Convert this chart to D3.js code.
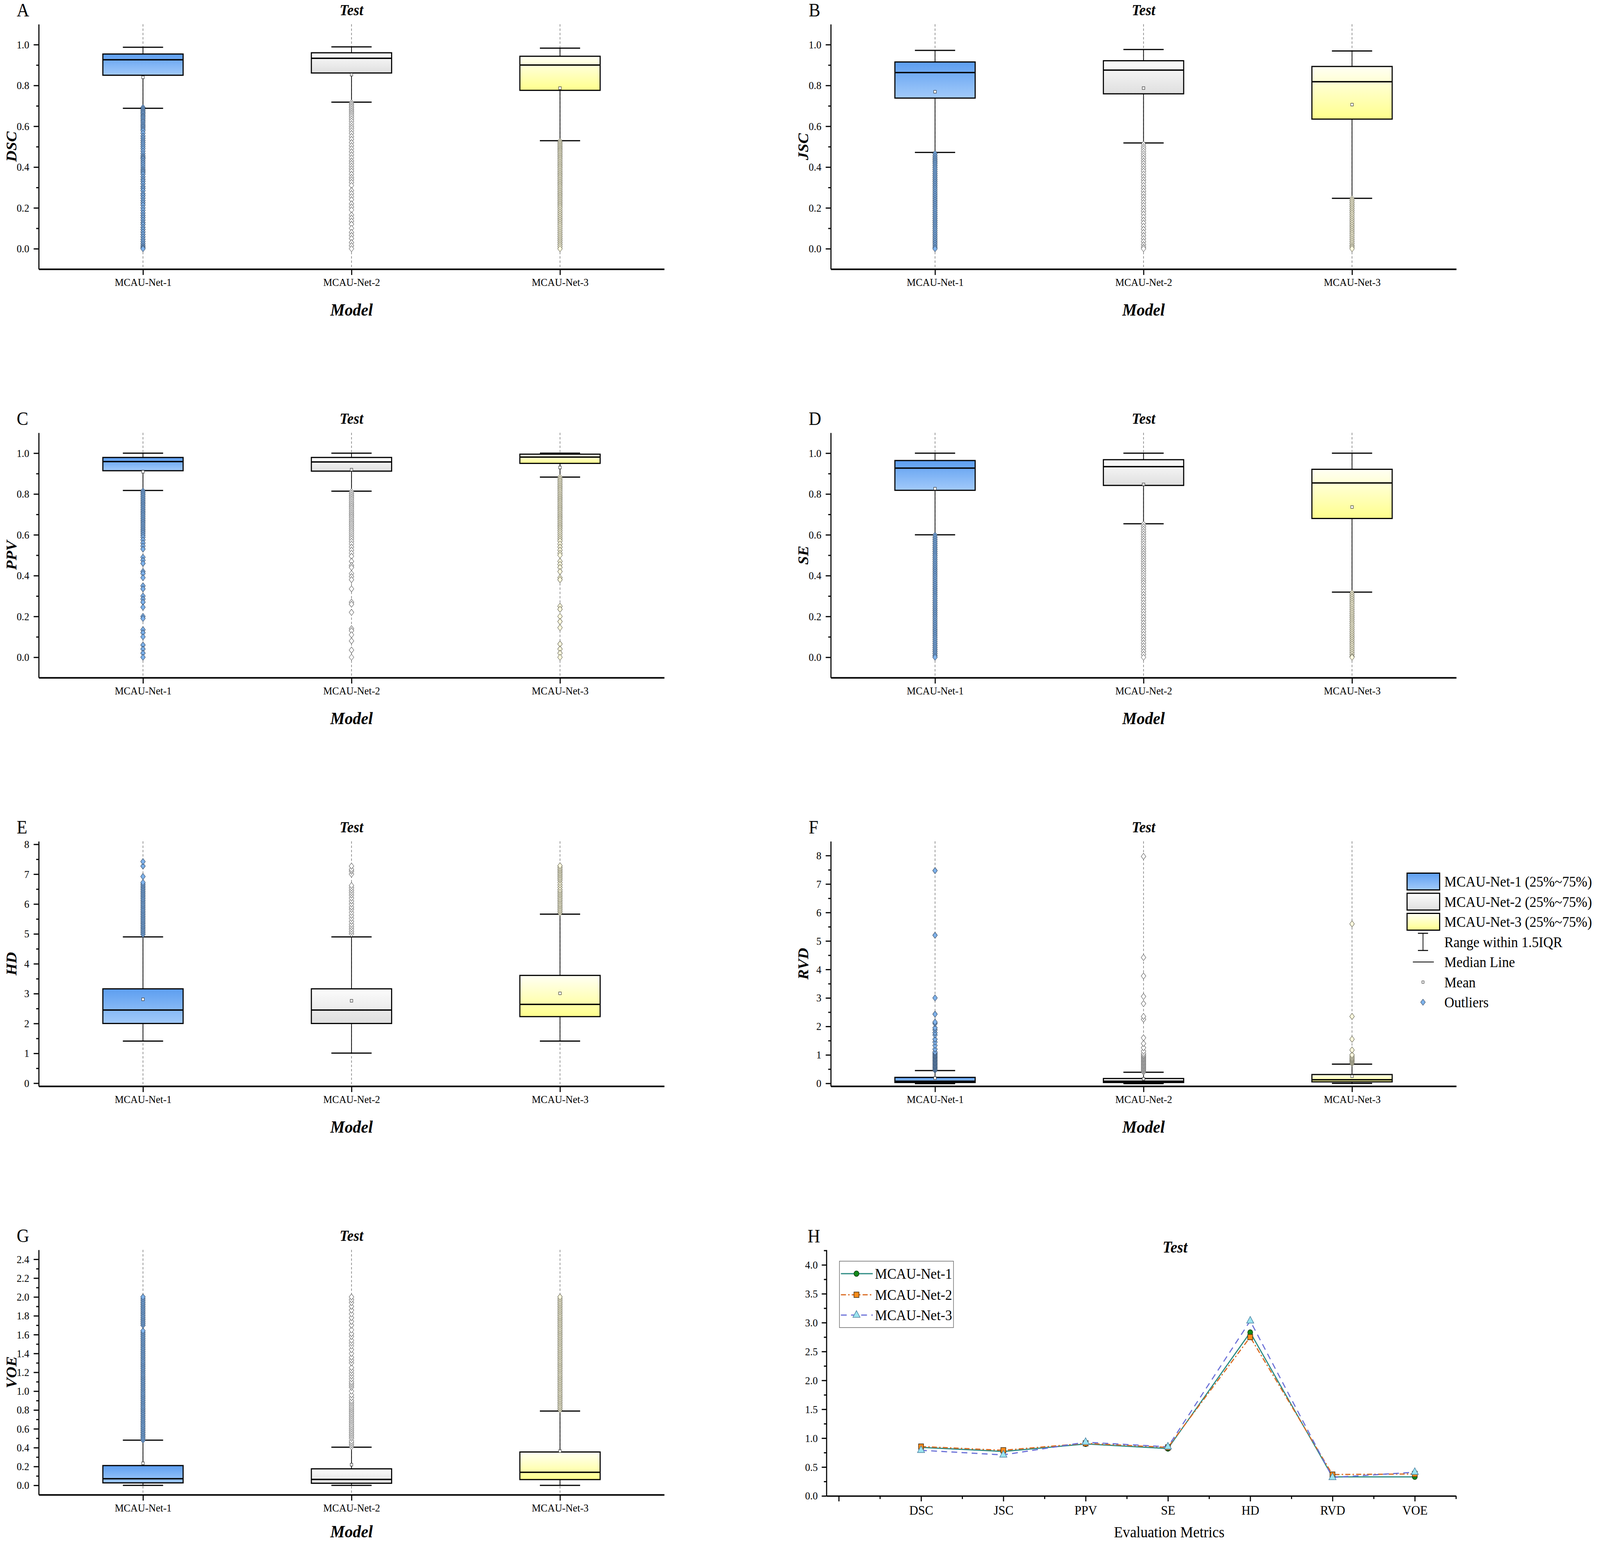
<!DOCTYPE html>
<html><head><meta charset="utf-8">
<script src="https://cdn.jsdelivr.net/npm/d3@7"></script>
<style>
html,body{margin:0;padding:0;background:#fff;overflow:hidden;width:100%;height:100%}
svg{display:block;background:#fff;width:100vw;height:100vh}
text{font-family:"Liberation Serif","Times New Roman",serif;fill:#000}
</style>
</head><body>
<svg id="c" viewBox="0 0 4420 3948" preserveAspectRatio="none"></svg>
<script>
// ---------------- DATA ----------------
const models = ["MCAU-Net-1", "MCAU-Net-2", "MCAU-Net-3"];
const metrics = ["DSC", "JSC", "PPV", "SE", "HD", "RVD", "VOE"];
const legendLabels = ["MCAU-Net-1 (25%~75%)", "MCAU-Net-2 (25%~75%)", "MCAU-Net-3 (25%~75%)", "Range within 1.5IQR", "Median Line", "Mean", "Outliers"];

// box stats per model: [lower whisker, Q1, median, Q3, upper whisker, mean]
const dscStats = [[0.688,0.850,0.926,0.954,0.987,0.840],[0.718,0.861,0.933,0.960,0.989,0.853],[0.529,0.776,0.900,0.943,0.983,0.787]];
const jscStats = [[0.472,0.738,0.863,0.915,0.972,0.769],[0.518,0.759,0.875,0.921,0.976,0.787],[0.247,0.635,0.818,0.893,0.969,0.706]];
const ppvStats = [[0.817,0.914,0.959,0.979,1.000,0.909],[0.814,0.912,0.957,0.979,1.000,0.919],[0.883,0.950,0.981,0.995,1.000,0.930]];
const seStats  = [[0.600,0.818,0.927,0.964,1.000,0.826],[0.654,0.842,0.934,0.968,1.000,0.847],[0.319,0.680,0.854,0.921,1.000,0.736]];
const hdStats  = [[1.41,2.00,2.45,3.16,4.90,2.81],[1.01,2.00,2.45,3.16,4.90,2.76],[1.41,2.23,2.64,3.61,5.66,3.01]];
const rvdStats = [[-0.01,0.030,0.074,0.210,0.450,0.185],[-0.01,0.030,0.074,0.170,0.390,0.160],[0.0,0.052,0.126,0.310,0.675,0.250]];
const voeStats = [[0.0,0.026,0.070,0.210,0.479,0.234],[0.0,0.022,0.063,0.175,0.405,0.219],[0.0,0.061,0.138,0.354,0.788,0.363]];

// outliers
const dscOut1 = [0.692,0.684,0.676,0.668,0.661,0.652,0.645,0.637,0.628,0.62,0.611,0.603,0.595,0.586,0.578,0.566,0.552,0.541,0.53,0.52,0.51,0.5,0.49,0.478,0.466,0.455,0.447,0.44,0.43,0.42,0.41,0.4,0.39,0.382,0.374,0.365,0.352,0.34,0.33,0.318,0.305,0.295,0.284,0.27,0.26,0.248,0.236,0.225,0.214,0.2,0.188,0.175,0.163,0.152,0.14,0.128,0.118,0.105,0.094,0.082,0.07,0.058,0.046,0.035,0.024,0.014,0.006,0.0];
const dscOut2 = [0.716,0.708,0.7,0.692,0.683,0.674,0.665,0.656,0.647,0.636,0.625,0.612,0.6,0.59,0.578,0.565,0.55,0.536,0.52,0.505,0.49,0.475,0.46,0.445,0.43,0.418,0.405,0.392,0.38,0.365,0.35,0.338,0.325,0.31,0.285,0.27,0.255,0.24,0.22,0.205,0.19,0.165,0.15,0.135,0.12,0.1,0.08,0.065,0.05,0.03,0.015,0.0];
const dscOut3 = [0.526,0.518,0.51,0.502,0.494,0.486,0.478,0.47,0.461,0.452,0.443,0.434,0.425,0.416,0.407,0.398,0.389,0.38,0.371,0.362,0.353,0.344,0.335,0.326,0.317,0.308,0.299,0.29,0.281,0.272,0.263,0.254,0.245,0.236,0.227,0.218,0.209,0.2,0.19,0.18,0.17,0.16,0.15,0.14,0.13,0.12,0.11,0.1,0.09,0.08,0.07,0.06,0.05,0.04,0.03,0.02,0.01,0.0];
const jscOut1 = [0.466,0.455,0.445,0.436,0.427,0.418,0.408,0.398,0.388,0.378,0.368,0.358,0.348,0.338,0.328,0.318,0.308,0.298,0.288,0.278,0.268,0.258,0.248,0.238,0.228,0.218,0.208,0.198,0.188,0.178,0.168,0.158,0.148,0.138,0.128,0.118,0.108,0.098,0.088,0.078,0.068,0.058,0.048,0.038,0.028,0.018,0.008,0.0];
const jscOut2 = [0.512,0.5,0.49,0.478,0.466,0.455,0.443,0.43,0.418,0.405,0.392,0.38,0.366,0.352,0.338,0.325,0.31,0.296,0.282,0.268,0.254,0.24,0.226,0.212,0.198,0.184,0.17,0.155,0.14,0.126,0.11,0.095,0.08,0.065,0.05,0.035,0.02,0.008,0.0];
const jscOut3 = [0.245,0.236,0.226,0.216,0.206,0.196,0.186,0.176,0.166,0.156,0.146,0.136,0.126,0.116,0.106,0.096,0.086,0.076,0.066,0.056,0.046,0.036,0.026,0.016,0.008,0.0];
const ppvOut1 = [0.815,0.806,0.797,0.788,0.779,0.77,0.761,0.752,0.743,0.734,0.725,0.716,0.707,0.698,0.689,0.68,0.671,0.662,0.653,0.644,0.635,0.626,0.617,0.608,0.598,0.588,0.575,0.56,0.545,0.53,0.49,0.475,0.46,0.42,0.41,0.39,0.35,0.335,0.3,0.285,0.27,0.245,0.2,0.19,0.135,0.12,0.1,0.06,0.04,0.02,0.0];
const ppvOut2 = [0.812,0.803,0.794,0.785,0.776,0.767,0.758,0.749,0.74,0.731,0.722,0.713,0.704,0.695,0.686,0.677,0.668,0.659,0.65,0.64,0.63,0.62,0.61,0.6,0.59,0.58,0.568,0.555,0.54,0.525,0.51,0.495,0.47,0.45,0.44,0.41,0.395,0.38,0.335,0.27,0.26,0.22,0.14,0.13,0.11,0.08,0.035,0.0];
const ppvOut3 = [0.882,0.873,0.864,0.855,0.846,0.837,0.828,0.819,0.81,0.801,0.792,0.783,0.774,0.765,0.756,0.747,0.738,0.729,0.72,0.711,0.702,0.693,0.684,0.675,0.666,0.657,0.648,0.639,0.63,0.62,0.61,0.6,0.59,0.58,0.57,0.555,0.54,0.525,0.51,0.5,0.47,0.455,0.44,0.42,0.39,0.38,0.25,0.235,0.2,0.175,0.145,0.065,0.04,0.02,0.0];
const seOut1 = [0.598,0.588,0.578,0.568,0.558,0.548,0.538,0.528,0.518,0.508,0.498,0.488,0.478,0.468,0.458,0.448,0.438,0.428,0.418,0.408,0.398,0.388,0.378,0.368,0.358,0.348,0.338,0.328,0.318,0.308,0.298,0.288,0.278,0.268,0.258,0.248,0.238,0.228,0.218,0.208,0.198,0.188,0.178,0.168,0.158,0.148,0.138,0.128,0.118,0.108,0.098,0.088,0.078,0.068,0.058,0.048,0.038,0.028,0.018,0.008,0.0];
const seOut2 = [0.652,0.64,0.628,0.616,0.604,0.592,0.58,0.568,0.556,0.544,0.532,0.52,0.508,0.496,0.484,0.472,0.46,0.448,0.436,0.424,0.412,0.4,0.388,0.376,0.364,0.35,0.336,0.322,0.308,0.294,0.28,0.266,0.252,0.238,0.224,0.21,0.196,0.182,0.168,0.154,0.14,0.126,0.112,0.098,0.084,0.07,0.056,0.042,0.028,0.014,0.0];
const seOut3 = [0.315,0.305,0.295,0.285,0.275,0.265,0.255,0.245,0.235,0.225,0.215,0.205,0.195,0.185,0.175,0.165,0.155,0.145,0.135,0.125,0.115,0.105,0.095,0.085,0.075,0.065,0.055,0.045,0.035,0.025,0.015,0.005,0.0];
const hdOut1 = [4.98,5.04,5.1,5.16,5.22,5.28,5.34,5.4,5.46,5.52,5.58,5.64,5.7,5.76,5.82,5.88,5.94,6.0,6.06,6.12,6.18,6.24,6.3,6.36,6.42,6.48,6.54,6.6,6.66,6.72,6.92,7.27,7.42];
const hdOut2 = [5.0,5.08,5.16,5.24,5.32,5.42,5.52,5.62,5.72,5.82,5.9,6.0,6.1,6.2,6.3,6.38,6.46,6.54,6.62,7.0,7.1,7.16,7.27];
const hdOut3 = [5.7,5.76,5.82,5.88,5.94,6.0,6.06,6.12,6.18,6.24,6.3,6.36,6.42,6.48,6.56,6.64,6.72,6.8,6.86,6.92,6.98,7.04,7.1,7.16,7.22,7.28];
const rvdOut1 = [0.46,0.5,0.54,0.58,0.62,0.66,0.7,0.74,0.78,0.82,0.86,0.9,0.94,0.98,1.02,1.06,1.1,1.2,1.33,1.45,1.55,1.7,1.78,1.88,1.95,2.1,2.15,2.43,3.0,5.2,7.47];
const rvdOut2 = [0.4,0.44,0.48,0.52,0.56,0.6,0.64,0.68,0.72,0.76,0.8,0.84,0.88,0.92,0.96,1.0,1.05,1.13,1.25,1.4,1.6,2.25,2.35,2.8,3.05,3.77,4.42,7.97];
const rvdOut3 = [0.7,0.74,0.78,0.82,0.86,0.9,0.95,1.0,1.17,1.55,2.35,5.6];
const voeOut1 = [0.48,0.5,0.52,0.54,0.56,0.58,0.6,0.62,0.64,0.66,0.68,0.7,0.72,0.74,0.76,0.78,0.8,0.82,0.84,0.86,0.88,0.9,0.92,0.94,0.96,0.98,1.0,1.02,1.04,1.06,1.08,1.1,1.12,1.14,1.16,1.18,1.2,1.22,1.24,1.26,1.28,1.3,1.32,1.34,1.36,1.38,1.4,1.42,1.44,1.46,1.48,1.5,1.52,1.54,1.56,1.58,1.6,1.62,1.64,1.7,1.72,1.74,1.76,1.78,1.8,1.82,1.84,1.86,1.88,1.9,1.92,1.94,1.96,1.98,2.0];
const voeOut2 = [0.41,0.43,0.45,0.47,0.5,0.52,0.54,0.56,0.58,0.6,0.62,0.64,0.66,0.68,0.7,0.72,0.74,0.76,0.78,0.8,0.82,0.84,0.86,0.88,0.9,0.93,0.96,1.0,1.04,1.06,1.08,1.1,1.13,1.16,1.19,1.22,1.25,1.3,1.33,1.36,1.4,1.44,1.48,1.51,1.54,1.58,1.61,1.65,1.7,1.74,1.78,1.82,1.86,1.9,1.94,1.97,2.0];
const voeOut3 = [0.8,0.82,0.84,0.86,0.88,0.9,0.92,0.94,0.96,0.98,1.0,1.02,1.04,1.06,1.08,1.1,1.12,1.14,1.16,1.18,1.2,1.22,1.24,1.26,1.28,1.3,1.32,1.34,1.36,1.38,1.4,1.42,1.44,1.46,1.48,1.5,1.52,1.54,1.56,1.58,1.6,1.62,1.64,1.66,1.68,1.7,1.72,1.74,1.76,1.78,1.8,1.82,1.84,1.86,1.88,1.9,1.92,1.94,1.96,1.98,2.0];

// panel H (means per metric)
const net1Line = [0.84, 0.77, 0.90, 0.82, 2.83, 0.33, 0.33];
const net2Line = [0.855, 0.79, 0.91, 0.84, 2.75, 0.37, 0.38];
const net3Line = [0.79, 0.71, 0.93, 0.85, 3.03, 0.32, 0.41];

// tick values
const unitMajor = [0, 0.2, 0.4, 0.6, 0.8, 1.0];
const unitMinor = [0.1, 0.3, 0.5, 0.7, 0.9];
const hdMajor = [0,1,2,3,4,5,6,7,8];
const hdMinor = [0.5,1.5,2.5,3.5,4.5,5.5,6.5,7.5];
const voeMajor = [0,0.2,0.4,0.6,0.8,1.0,1.2,1.4,1.6,1.8,2.0,2.2,2.4];
const voeMinor = [0.1,0.3,0.5,0.7,0.9,1.1,1.3,1.5,1.7,1.9,2.1,2.3];
const lineMajor = [0,0.5,1.0,1.5,2.0,2.5,3.0,3.5,4.0];
const lineMinor = [0.25,0.75,1.25,1.75,2.25,2.75,3.25,3.75,4.25];

// ---------------- DRAW ----------------
const svg = d3.select("#c");
const defs = svg.append("defs");
const gradStops = [["#5d9ef0","#a2cafa"],["#fcfcfc","#dfdfdf"],["#fffff4","#ffff8c"]];
gradStops.forEach((s,i)=>{
  const lg = defs.append("linearGradient").attr("id","bg"+i).attr("x1",0).attr("y1",0).attr("x2",0).attr("y2",1);
  lg.append("stop").attr("offset",0).attr("stop-color",s[0]);
  lg.append("stop").attr("offset",1).attr("stop-color",s[1]);
});
svg.append("rect").attr("x",0).attr("y",0).attr("width",4420).attr("height",3948).attr("fill","#fff");
const outFill = ["#7fb3ec","#ffffff","#fffbe0"];
const outStroke = ["#2e3f55","#555555","#5a5a4a"];
const W = 1728, H = 627;
const colX = [107, 2295];
const rowTop = [62, 1108, 2154, 3200];
const diamond = "M0,-8L6.5,0L0,8L-6.5,0Z";

const panels = [
  {letter:"A", label:"DSC", c:0, r:0, domain:[-0.1,1.1], major:unitMajor, minor:unitMinor, fmt:d3.format(".1f"), stats:dscStats, out:[dscOut1,dscOut2,dscOut3]},
  {letter:"B", label:"JSC", c:1, r:0, domain:[-0.1,1.1], major:unitMajor, minor:unitMinor, fmt:d3.format(".1f"), stats:jscStats, out:[jscOut1,jscOut2,jscOut3]},
  {letter:"C", label:"PPV", c:0, r:1, domain:[-0.1,1.1], major:unitMajor, minor:unitMinor, fmt:d3.format(".1f"), stats:ppvStats, out:[ppvOut1,ppvOut2,ppvOut3]},
  {letter:"D", label:"SE",  c:1, r:1, domain:[-0.1,1.1], major:unitMajor, minor:unitMinor, fmt:d3.format(".1f"), stats:seStats, out:[seOut1,seOut2,seOut3]},
  {letter:"E", label:"HD",  c:0, r:2, domain:[-0.1,8.1], major:hdMajor, minor:hdMinor, fmt:d3.format("d"), stats:hdStats, out:[hdOut1,hdOut2,hdOut3]},
  {letter:"F", label:"RVD", c:1, r:2, domain:[-0.1,8.5], major:hdMajor, minor:hdMinor, fmt:d3.format("d"), stats:rvdStats, out:[rvdOut1,rvdOut2,rvdOut3]},
  {letter:"G", label:"VOE", c:0, r:3, domain:[-0.1,2.5], major:voeMajor, minor:voeMinor, fmt:d3.format(".1f"), stats:voeStats, out:[voeOut1,voeOut2,voeOut3]}
];

function styleAxis(g, w){
  g.selectAll("path.domain").attr("stroke","#000").attr("stroke-width",w);
  g.selectAll(".tick line").attr("stroke","#000").attr("stroke-width",3);
}

panels.forEach(p=>{
  const x0 = colX[p.c], x1 = x0 + W, top = rowTop[p.r], bot = top + H;
  const x = d3.scaleLinear().domain([0.5,3.5]).range([x0,x1]);
  const y = d3.scaleLinear().domain(p.domain).range([bot,top]);
  const g = svg.append("g");
  const bw = 0.385, cw = 0.193;

  g.selectAll("line.guide").data(models).join("line").attr("class","guide")
    .attr("x1",(d,i)=>x(i+1)).attr("x2",(d,i)=>x(i+1)).attr("y1",top).attr("y2",bot)
    .attr("stroke","#6e6e6e").attr("stroke-width",1.5).attr("stroke-dasharray","6,5");

  const bx = g.selectAll("g.box").data(p.stats).join("g").attr("class","box");
  bx.append("line").attr("x1",(d,i)=>x(i+1)).attr("x2",(d,i)=>x(i+1)).attr("y1",d=>y(d[3])).attr("y2",d=>y(d[4])).attr("stroke","#000").attr("stroke-width",2);
  bx.append("line").attr("x1",(d,i)=>x(i+1)).attr("x2",(d,i)=>x(i+1)).attr("y1",d=>y(d[1])).attr("y2",d=>y(d[0])).attr("stroke","#000").attr("stroke-width",2);
  bx.append("line").attr("x1",(d,i)=>x(i+1-cw/2)).attr("x2",(d,i)=>x(i+1+cw/2)).attr("y1",d=>y(d[4])).attr("y2",d=>y(d[4])).attr("stroke","#000").attr("stroke-width",3);
  bx.append("line").attr("x1",(d,i)=>x(i+1-cw/2)).attr("x2",(d,i)=>x(i+1+cw/2)).attr("y1",d=>y(d[0])).attr("y2",d=>y(d[0])).attr("stroke","#000").attr("stroke-width",3);
  bx.append("rect").attr("x",(d,i)=>x(i+1-bw/2)).attr("width",(d,i)=>x(i+1+bw/2)-x(i+1-bw/2))
    .attr("y",d=>y(d[3])).attr("height",d=>Math.max(1,y(d[1])-y(d[3])))
    .attr("fill",(d,i)=>`url(#bg${i})`).attr("stroke","#000").attr("stroke-width",3);
  bx.append("line").attr("x1",(d,i)=>x(i+1-bw/2)).attr("x2",(d,i)=>x(i+1+bw/2)).attr("y1",d=>y(d[2])).attr("y2",d=>y(d[2])).attr("stroke","#000").attr("stroke-width",3.5);

  p.out.forEach((arr,i)=>{
    g.selectAll(null).data(arr).join("path").attr("d",diamond)
      .attr("transform",d=>`translate(${x(i+1)},${y(d)})`)
      .attr("fill",outFill[i]).attr("stroke",outStroke[i]).attr("stroke-width",1.1);
  });
  bx.append("rect").attr("x",(d,i)=>x(i+1)-3.5).attr("y",d=>y(d[5])-3.5).attr("width",7).attr("height",7)
    .attr("fill","#fff").attr("stroke","#333").attr("stroke-width",1.2);

  const ya = g.append("g").attr("transform",`translate(${x0},0)`)
    .call(d3.axisLeft(y).tickValues(p.major).tickFormat(p.fmt).tickSize(14).tickSizeOuter(0).tickPadding(12));
  styleAxis(ya,3);
  ya.selectAll("text").attr("font-size",28).attr("font-family","Liberation Serif");
  const ym = g.append("g").attr("transform",`translate(${x0},0)`)
    .call(d3.axisLeft(y).tickValues(p.minor).tickFormat("").tickSize(7).tickSizeOuter(0));
  ym.select("path.domain").remove();
  styleAxis(ym,3);
  const xa = g.append("g").attr("transform",`translate(0,${bot})`)
    .call(d3.axisBottom(x).tickValues([1,2,3]).tickFormat(d=>models[d-1]).tickSize(15).tickSizeOuter(0).tickPadding(8));
  styleAxis(xa,4);
  xa.selectAll("text").attr("font-size",28).attr("font-family","Liberation Serif");

  g.append("text").attr("x",x0-61).attr("y",top-20).attr("font-size",48).text(p.letter);
  g.append("text").attr("x",(x0+x1)/2).attr("y",top-23).attr("text-anchor","middle")
    .attr("font-size",40).attr("font-weight","bold").attr("font-style","italic").text("Test");
  g.append("text").attr("x",(x0+x1)/2).attr("y",Math.min(bot+119,3936)).attr("text-anchor","middle")
    .attr("font-size",45).attr("font-weight","bold").attr("font-style","italic").text("Model");
  g.append("text").attr("transform",`translate(${x0-62},${(top+bot)/2}) rotate(-90)`).attr("text-anchor","middle")
    .attr("font-size",40).attr("font-weight","bold").attr("font-style","italic").text(p.label);
});

// ---------- legend (right of F) ----------
const lg = svg.append("g");
const ly = d3.scaleLinear().domain([0,6]).range([2257,2566]);
legendLabels.forEach((t,i)=>{
  const cy = ly(i);
  if(i<3){
    lg.append("rect").attr("x",3887).attr("y",cy-21.5).attr("width",90).attr("height",43)
      .attr("fill",`url(#bg${i})`).attr("stroke","#000").attr("stroke-width",3);
  } else if(i===3){
    lg.append("line").attr("x1",3931).attr("x2",3931).attr("y1",cy-22).attr("y2",cy+22).attr("stroke","#000").attr("stroke-width",2);
    lg.append("line").attr("x1",3917).attr("x2",3945).attr("y1",cy-22).attr("y2",cy-22).attr("stroke","#000").attr("stroke-width",2.5);
    lg.append("line").attr("x1",3917).attr("x2",3945).attr("y1",cy+22).attr("y2",cy+22).attr("stroke","#000").attr("stroke-width",2.5);
  } else if(i===4){
    lg.append("line").attr("x1",3903).attr("x2",3961).attr("y1",cy).attr("y2",cy).attr("stroke","#000").attr("stroke-width",2);
  } else if(i===5){
    lg.append("rect").attr("x",3928).attr("y",cy-3).attr("width",6).attr("height",6).attr("fill","#fff").attr("stroke","#333").attr("stroke-width",1.2);
  } else {
    lg.append("path").attr("d",diamond).attr("transform",`translate(3931,${cy})`).attr("fill",outFill[0]).attr("stroke",outStroke[0]).attr("stroke-width",1.1);
  }
  lg.append("text").attr("x",3990).attr("y",cy).attr("dy","0.35em").attr("font-size",38).text(t);
});

// ---------- panel H ----------
(function(){
  const hx = d3.scaleLinear().domain([-0.15,7.5]).range([2283,4022]);
  const hy = d3.scaleLinear().domain([0,4.26]).range([3830,3200]);
  const g = svg.append("g");
  const ya = g.append("g").attr("transform","translate(2283,0)")
    .call(d3.axisLeft(hy).tickValues(lineMajor).tickFormat(d3.format(".1f")).tickSize(13).tickSizeOuter(0).tickPadding(11));
  styleAxis(ya,3);
  ya.selectAll("text").attr("font-size",28).attr("font-family","Liberation Serif");
  const ym = g.append("g").attr("transform","translate(2283,0)")
    .call(d3.axisLeft(hy).tickValues(lineMinor).tickFormat("").tickSize(7).tickSizeOuter(0));
  ym.select("path.domain").remove(); styleAxis(ym,3);
  const xa = g.append("g").attr("transform","translate(0,3830)")
    .call(d3.axisBottom(hx).tickValues([0,1,2,3,4,5,6,7]).tickFormat(d=>metrics[d-1]||"").tickSize(14).tickSizeOuter(0).tickPadding(10));
  styleAxis(xa,3.5);
  xa.selectAll("text").attr("font-size",34).attr("font-family","Liberation Serif");
  const xm = g.append("g").attr("transform","translate(0,3830)")
    .call(d3.axisBottom(hx).tickValues([0.5,1.5,2.5,3.5,4.5,5.5,6.5,7.5]).tickFormat("").tickSize(8).tickSizeOuter(0));
  xm.select("path.domain").remove(); styleAxis(xm,3);

  const series = [
    {vals:net1Line, color:"#2a8a82", dash:null, marker:"circle", fill:"#158a1c", mstroke:"#0b3d10"},
    {vals:net2Line, color:"#d9691f", dash:"14,6,4,6", marker:"square", fill:"#ff8c1a", mstroke:"#3a2a10"},
    {vals:net3Line, color:"#6b70d8", dash:"16,12", marker:"triangle", fill:"#9ce4f0", mstroke:"#4a7fa0"}
  ];
  const line = d3.line().x((d,i)=>hx(i+1)).y(d=>hy(d));
  const sym = {circle:d3.symbolCircle, square:d3.symbolSquare, triangle:d3.symbolTriangle};
  const symSize = {circle:150, square:190, triangle:170};
  series.forEach(s=>{
    g.append("path").datum(s.vals).attr("d",line).attr("fill","none").attr("stroke",s.color)
      .attr("stroke-width",3).attr("stroke-dasharray",s.dash);
  });
  series.forEach(s=>{
    g.selectAll(null).data(s.vals).join("path")
      .attr("d",d3.symbol(sym[s.marker],symSize[s.marker]))
      .attr("transform",(d,i)=>`translate(${hx(i+1)},${hy(d)})`)
      .attr("fill",s.fill).attr("stroke",s.mstroke).attr("stroke-width",1.5);
  });

  g.append("rect").attr("x",2319).attr("y",3229).attr("width",315).attr("height",170)
    .attr("fill","#fff").attr("stroke","#666").attr("stroke-width",1.5);
  const lys = [3261,3315,3367];
  series.forEach((s,i)=>{
    g.append("line").attr("x1",2323).attr("x2",2411).attr("y1",lys[i]).attr("y2",lys[i])
      .attr("stroke",s.color).attr("stroke-width",3).attr("stroke-dasharray",s.dash);
    g.append("path").attr("d",d3.symbol(sym[s.marker],symSize[s.marker]))
      .attr("transform",`translate(2366,${lys[i]})`).attr("fill",s.fill).attr("stroke",s.mstroke).attr("stroke-width",1.5);
    g.append("text").attr("x",2417).attr("y",lys[i]).attr("dy","0.35em").attr("font-size",38).text(models[i]);
  });

  g.append("text").attr("x",2231).attr("y",3181).attr("font-size",48).text("H");
  g.append("text").attr("x",3246).attr("y",3207).attr("text-anchor","middle")
    .attr("font-size",42).attr("font-weight","bold").attr("font-style","italic").text("Test");
  g.append("text").attr("x",3230).attr("y",3936).attr("text-anchor","middle").attr("font-size",40).text("Evaluation Metrics");
})();
</script>
</body></html>
